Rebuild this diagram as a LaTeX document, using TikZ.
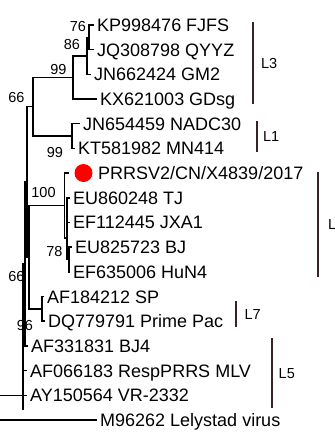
\documentclass[tikz,border=0pt]{standalone}
\usepackage{fontspec}
\setmainfont{Liberation Sans}
\usepackage{xcolor}
\usepackage{tikz}
\usetikzlibrary{positioning,calc}
\definecolor{cladebar}{RGB}{55,35,35}

\begin{document}
\begin{tikzpicture}[x=1pt, y=-1pt, br/.style={line width=1.4pt}, leaf/.style={anchor=west, inner xsep=3pt, inner ysep=0pt, text height=12.9pt, text depth=0pt, font=\fontsize{18}{20}\selectfont}, bs/.style={inner sep=0pt, text height=10.4pt, text depth=0pt, font=\fontsize{14.5}{16}\selectfont}, clade/.style={line width=2pt, draw=cladebar}, lab/.style={inner sep=0pt, text height=10.4pt, text depth=0pt, font=\fontsize{14.5}{16}\selectfont}]
\useasboundingbox (0,0) rectangle (335,432);
\clip (0,0) rectangle (335,432);
\node[leaf] (kp) at (94,25) {KP998476 FJFS};
\node[leaf] (jq) at (94,49.7) {JQ308798 QYYZ};
\node[leaf] (gm) at (91,74.4) {JN662424 GM2};
\node[leaf] (kx) at (97,99) {KX621003 GDsg};
\node[leaf] (nadc) at (80,123.7) {JN654459 NADC30};
\node[leaf] (mn) at (75,148.4) {KT581982 MN414};
\node[circle, fill=red, inner sep=0pt, minimum size=18pt] (dot) at (83.5,173) {};
\node[leaf] (x4839) at (95,173) {PRRSV2/CN/X4839/2017};
\node[leaf] (tj) at (70,197.8) {EU860248 TJ};
\node[leaf] (jxa) at (70,222.5) {EF112445 JXA1};
\node[leaf] (bj) at (72,247) {EU825723 BJ};
\node[leaf] (hun) at (70,272) {EF635006 HuN4};
\node[leaf] (sp) at (44,296.6) {AF184212 SP};
\node[leaf] (pp) at (45,321) {DQ779791 Prime Pac};
\node[leaf] (bj4) at (28,346) {AF331831 BJ4};
\node[leaf] (mlv) at (27,370.7) {AF066183 RespPRRS MLV};
\node[leaf] (vr) at (27,395.4) {AY150564 VR-2332};
\node[leaf] (lv) at (97,420) {M96262 Lelystad virus};
\coordinate (n76) at (89,37.35);
\coordinate (n86) at (87,55.9);
\coordinate (n99a) at (73,77.4);
\coordinate (n99b) at (72,136);
\coordinate (n66a) at (33,106.7);
\coordinate (n78) at (69,259.5);
\coordinate (nsub) at (67,238);
\coordinate (n100) at (64.5,205.5);
\coordinate (nsp) at (42,308.8);
\coordinate (n66b) at (29,257);
\coordinate (n27) at (27,181.9);
\coordinate (n96) at (25,264);
\coordinate (nin) at (23,395.4);
\coordinate (intail) at (23,410);
\coordinate (root) at (-2,408);
\draw[br] (root) |- (nin) (root) |- (lv.west);
\draw[br] (nin) |- (n96) (nin) -- (intail) (nin) |- (mlv.west) (nin) -- (vr.west);
\draw[br] (n96) |- (n27) (n96) |- (bj4.west);
\draw[br] (n27) |- (n66a) (n27) |- (n66b);
\draw[br] (n66a) |- (n99a) (n66a) |- (n99b);
\draw[br] (n99a) |- (n86) (n99a) |- (kx.west);
\draw[br] (n86) |- (n76) (n86) |- (gm.west);
\draw[br] (n76) |- (kp.west) (n76) |- (jq.west);
\draw[br] (n99b) |- (nadc.west) (n99b) |- (mn.west);
\draw[br] (n66b) |- (n100) (n66b) |- (nsp);
\draw[br] (n100) |- ([xshift=-5pt]dot.west) (n100) |- (nsub);
\draw[br] (nsub) |- (tj.west) (nsub) |- (jxa.west) (nsub) |- (n78);
\draw[br] (n78) |- (bj.west) (n78) |- (hun.west);
\draw[br] (nsp) |- (sp.west) (nsp) |- (pp.west);
\node[bs] (b76) at (78,26) {76};
\node[bs] (b86) at (72,44.5) {86};
\node[bs] (b99a) at (58.5,69) {99};
\node[bs] (b66a) at (16.5,97) {66};
\node[bs] (b99b) at (55,152) {99};
\node[bs] (b100) at (43.5,192.5) {100};
\node[bs] (b78) at (54.5,251.5) {78};
\node[bs] (b66b) at (16.5,276) {66};
\node[bs] (b96) at (25,325) {96};
\draw[clade] (253,21.7) -- node[lab, right=7pt] {L3} (253,104);
\draw[clade] (257,121) -- node[lab, right=5pt] {L1} (257,152);
\draw[clade] (318,172) -- node[lab, right=9pt] {L8} (318,277);
\draw[clade] (235.5,301) -- node[lab, right=8pt] {L7} (235.5,327);
\draw[clade] (271.7,338) -- node[lab, right=6pt] {L5} (271.7,408);
\end{tikzpicture}
\end{document}
